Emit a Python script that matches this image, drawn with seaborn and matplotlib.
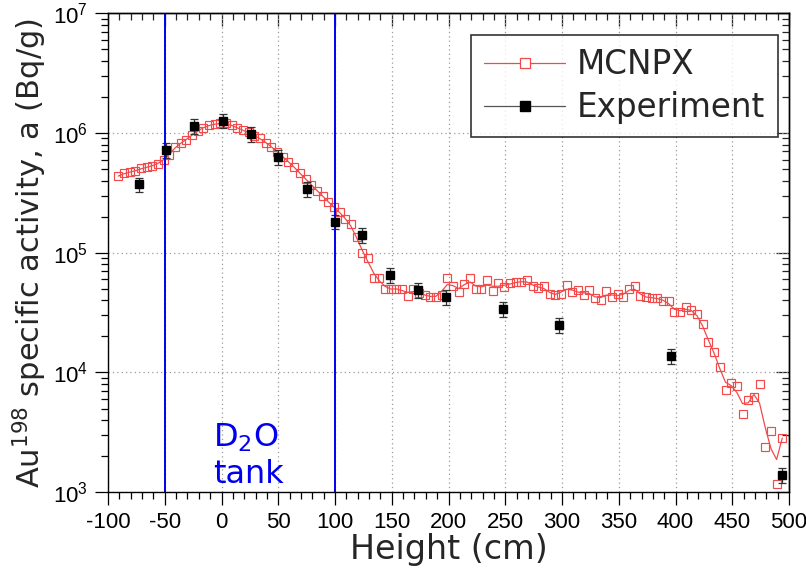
import numpy as np
import matplotlib
matplotlib.use("Agg")
import matplotlib.pyplot as plt
import seaborn as sns
from matplotlib.lines import Line2D
from matplotlib.ticker import MultipleLocator, LogLocator, LogFormatterMathtext, NullFormatter

# MCNPX simulation (height in cm, activity in Bq/g)
mcnpx_height = [
    -91, -86, -81, -76, -71, -66, -61, -56, -51, -46, -41, -36, -31, -26, -21, -16, -11, -6, -1,
    4, 9, 14, 19, 24, 29, 34, 39, 44, 49, 54, 59, 64, 69, 74, 79, 84, 89, 94, 99,
    104, 109, 114, 119, 124, 129, 134, 139, 144, 149, 154, 159, 164, 169, 174, 179, 184, 189, 194, 199,
    204, 209, 214, 219, 224, 229, 234, 239, 244, 249, 254, 259, 264, 269, 274, 279, 284, 289, 294, 299,
    304, 309, 314, 319, 324, 329, 334, 339, 344, 349, 354, 359, 364, 369, 374, 379, 384, 389, 394, 399,
    404, 409, 414, 419, 424, 429, 434, 439, 444, 449, 454, 459, 464, 469, 474, 479, 484, 489, 494,
]
mcnpx_activity = [
    4.36e5, 4.6e5, 4.7e5, 4.8e5, 5.05e5, 5.15e5, 5.3e5, 5.55e5, 5.9e5, 6.6e5,
    7.6e5, 8.2e5, 8.8e5, 9.6e5, 1.04e6, 1.11e6, 1.16e6, 1.18e6, 1.21e6,
    1.2e6, 1.16e6, 1.1e6, 1.05e6, 1.01e6, 9.5e5, 9.0e5, 8.3e5, 7.7e5, 6.95e5,
    6.3e5, 5.75e5, 5.2e5, 4.6e5, 4.15e5, 3.7e5, 3.3e5, 3.0e5, 2.65e5, 2.4e5,
    2.2e5, 1.9e5, 1.73e5, 1.36e5, 9.9e4, 9.0e4, 6.2e4, 6.1e4, 5.0e4, 4.95e4,
    5.0e4, 5.0e4, 4.35e4, 5.0e4, 4.6e4, 4.45e4, 4.25e4, 4.3e4, 4.45e4, 6.1e4,
    5.25e4, 4.7e4, 5.45e4, 6.2e4, 5.0e4, 4.95e4, 5.9e4, 4.8e4, 5.55e4, 5.15e4,
    5.55e4, 5.65e4, 5.65e4, 5.95e4, 5.25e4, 5.1e4, 5.25e4, 4.5e4, 4.45e4, 4.5e4,
    5.35e4, 4.67e4, 4.85e4, 4.4e4, 4.85e4, 4.15e4, 4.02e4, 4.75e4, 4.24e4, 4.54e4,
    4.24e4, 5.0e4, 5.26e4, 4.32e4, 4.26e4, 4.2e4, 4.2e4, 3.95e4, 3.95e4, 3.19e4,
    3.21e4, 3.49e4, 3.3e4, 3.05e4, 2.52e4, 1.78e4, 1.48e4, 1.12e4, 7.2e3, 8.1e3,
    7.7e3, 4.47e3, 5.9e3, 6.27e3, 7.96e3, 2.37e3, 3.24e3, 1.16e3, 2.83e3,
]

# Experiment
exp_height = [-73, -49, -24, 1, 26, 50, 75, 100, 124, 148, 173, 198, 248, 297, 396, 494]
exp_activity = [3.72e5, 7.2e5, 1.15e6, 1.27e6, 9.8e5, 6.28e5, 3.42e5, 1.82e5,
                1.40e5, 6.54e4, 4.88e4, 4.29e4, 3.4e4, 2.5e4, 1.38e4, 1.39e3]
exp_rel_err = 0.14

tank_edges = [-50, 100]

RED = "#f24a4a"

sns.set_theme(style="ticks")
plt.rcParams["font.family"] = ["DejaVu Sans"]
plt.rcParams["mathtext.fontset"] = "dejavusans"
plt.rcParams["axes.unicode_minus"] = False

fig = plt.figure(figsize=(8.06, 5.73), dpi=100)
ax = fig.add_axes([0.134, 0.141, 0.845, 0.836])

# smoothed guide line through the MCNPX points (1-2-1 weights in log space)
logv = np.log10(mcnpx_activity)
smooth = logv.copy()
smooth[1:-1] = 0.25 * logv[:-2] + 0.5 * logv[1:-1] + 0.25 * logv[2:]
sns.lineplot(x=mcnpx_height, y=10 ** smooth, ax=ax, color=RED, lw=0.9, sort=False)
ax.plot(mcnpx_height, mcnpx_activity, ls="none", marker="s", ms=5.4,
        mfc="none", mec=RED, mew=0.85)

ax.errorbar(exp_height, exp_activity,
            yerr=np.array(exp_activity) * exp_rel_err,
            fmt="s", ms=5.8, color="black", ecolor="#333333",
            elinewidth=0.9, capsize=3, capthick=0.9)

for xe in tank_edges:
    ax.axvline(xe, color="#0000ee", lw=1.4)

ax.set_yscale("log")
ax.set_xlim(-100, 500)
ax.set_ylim(1e3, 1e7)

ax.xaxis.set_major_locator(MultipleLocator(50))
ax.xaxis.set_minor_locator(MultipleLocator(10))
ax.yaxis.set_major_locator(LogLocator(base=10, numticks=10))
ax.yaxis.set_minor_locator(LogLocator(base=10, subs=np.arange(2, 10), numticks=20))
ax.yaxis.set_major_formatter(LogFormatterMathtext())
ax.yaxis.set_minor_formatter(NullFormatter())

ax.grid(True, which="major", color="#9a9a9a", ls=(0, (1, 2.5)), lw=0.9)

for s in ax.spines.values():
    s.set_color("black")
    s.set_linewidth(1.0)

ax.tick_params(which="both", direction="out", colors="black", width=0.9,
               top=False, right=False)
ax.tick_params(which="major", length=9.5)
ax.tick_params(which="minor", length=4.8)
ax.tick_params(axis="both", which="major", labelsize=16, pad=5,
               labelfontfamily=["Liberation Sans", "DejaVu Sans"])

# inward mirror ticks on top and right
axt = ax.secondary_xaxis("top")
axt.xaxis.set_major_locator(MultipleLocator(50))
axt.xaxis.set_minor_locator(MultipleLocator(10))
axt.tick_params(which="both", direction="in", labeltop=False, width=0.9)
axt.tick_params(which="major", length=9.5)
axt.tick_params(which="minor", length=4.8)
axr = ax.secondary_yaxis("right")
axr.set_yscale("log")
axr.yaxis.set_major_locator(LogLocator(base=10, numticks=10))
axr.yaxis.set_minor_locator(LogLocator(base=10, subs=np.arange(2, 10), numticks=20))
axr.tick_params(which="both", direction="in", labelright=False, width=0.9)
axr.tick_params(which="major", length=9.5)
axr.tick_params(which="minor", length=4.8)
for sec in (axt, axr):
    for s in sec.spines.values():
        s.set_linewidth(1.0)
        s.set_color("black")

ax.set_xlabel("Height (cm)", fontsize=24, labelpad=0)
ax.set_ylabel(r"Au$^{198}$ specific activity, a (Bq/g)", fontsize=22, labelpad=3)

ax.text(0.154, 0.019, "D$_2$O\ntank", transform=ax.transAxes, color="#0000ee",
        fontsize=23, ha="left", va="baseline", linespacing=1.2)

handles = [
    Line2D([], [], color=RED, lw=0.9, marker="s", ms=7, mfc="white", mec=RED, mew=0.9),
    Line2D([], [], color="#555555", lw=0.9, marker="s", ms=7, mfc="black", mec="black"),
]
leg = ax.legend(handles, ["MCNPX", "Experiment"], loc="upper right",
                bbox_to_anchor=(0.984, 0.954), fontsize=23.5, frameon=True,
                fancybox=False, edgecolor="black", handlelength=2.5,
                handletextpad=0.35, labelspacing=0.3, borderpad=0.4,
                borderaxespad=0)
leg.get_frame().set_linewidth(1.2)

fig.savefig("out.png", dpi=100)
